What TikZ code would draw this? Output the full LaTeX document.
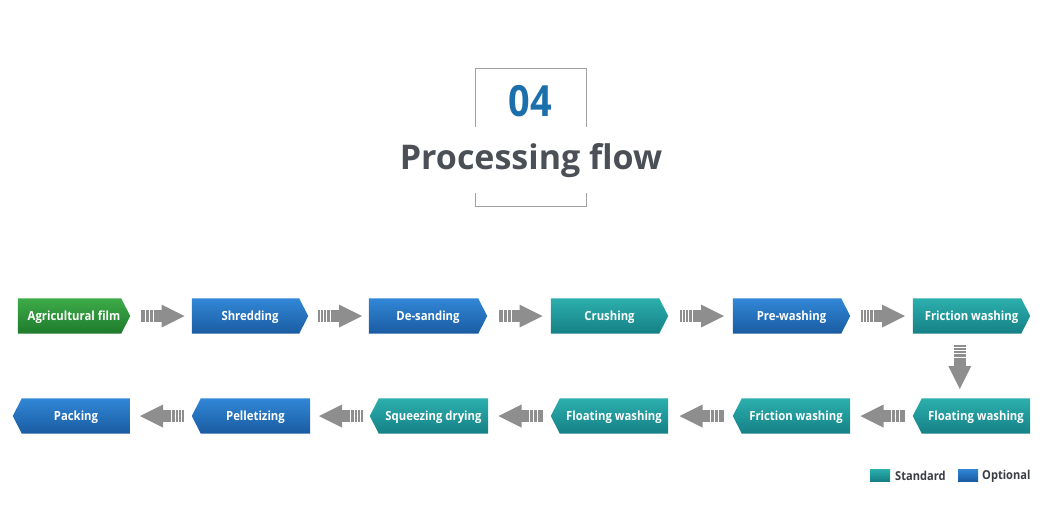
\documentclass[tikz,border=0pt]{standalone}
\usepackage{fontspec}
\setmainfont{Open Sans}
\newfontfamily\numfont[FakeStretch=0.88]{Open Sans}
\newfontfamily\boxfont[FakeStretch=0.9]{Open Sans}
\usetikzlibrary{calc,backgrounds}
\definecolor{bluetop}{HTML}{3187D6}
\definecolor{bluebot}{HTML}{1A5BA2}
\definecolor{tealtop}{HTML}{2CAFAD}
\definecolor{tealbot}{HTML}{158086}
\definecolor{greentop}{HTML}{3EAB49}
\definecolor{greenbot}{HTML}{1E7A2B}
\definecolor{arrgray}{HTML}{8E8E8E}
\definecolor{titlegray}{HTML}{4B5057}
\definecolor{numblue}{HTML}{1B6FAA}
\definecolor{framegray}{HTML}{A0A0A0}
\definecolor{legtext}{HTML}{3A3D42}
\tikzset{
  stepbox/.style={minimum height=35pt, inner sep=0pt, text=white,
    text height=9pt, text depth=1pt,
    font=\boxfont\bfseries\fontsize{12.6}{13}\selectfont},
  pics/flowarr/.style={code={
    \fill[arrgray] (-1,-11.5) -- (22,0) -- (-1,11.5) -- cycle;
    \foreach \a/\b in {-22/-19.8,-19.1/-17.1,-16.4/-13.6,-12.8/-9.6,-8.7/-0.5}
      \fill[arrgray] (\a,-6) rectangle (\b,6);
  }},
  legbox/.style={minimum width=20pt, minimum height=12pt, inner sep=0pt},
  legtxt/.style={anchor=west, inner sep=0pt, text=legtext,
    font=\boxfont\bfseries\fontsize{12.3}{13}\selectfont}
}
\newcommand\rshape[3]{%
  \shade[top color=#2,bottom color=#3] (#1.north west) -- ([xshift=-9pt]#1.north east)
    -- (#1.east) -- ([xshift=-9pt]#1.south east) -- (#1.south west) -- cycle;}
\newcommand\lshape[3]{%
  \shade[top color=#2,bottom color=#3] (#1.north east) -- (#1.north west)
    -- ([xshift=-9pt]#1.west) -- (#1.south west) -- (#1.south east) -- cycle;}
\begin{document}
\begin{tikzpicture}[x=1pt,y=-1pt]
\useasboundingbox (0,0) rectangle (1060,523);
% title frame
\draw[framegray, line width=0.9pt] (475,127) -- (475,68) -- (586,68) -- (586,127);
\draw[framegray, line width=0.9pt] (475,193) -- (475,206) -- (586,206) -- (586,193);
\node[text=numblue, font=\numfont\bfseries\fontsize{43}{43}\selectfont, inner sep=0pt] (num) at (530,101) {04};
\node[text=titlegray, font=\bfseries\fontsize{34}{35}\selectfont, inner sep=0pt] (title) at (531,161) {Processing flow};
% row 1
\node[stepbox, minimum width=112pt] (s1) at (74,316) {Agricultural film};
\node[stepbox, minimum width=116pt] (s2) at (250,316) {Shredding};
\node[stepbox, minimum width=118pt] (s3) at (428,316) {De-sanding};
\node[stepbox, minimum width=117pt] (s4) at (609.5,316) {Crushing};
\node[stepbox, minimum width=117pt] (s5) at (791.5,316) {Pre-washing};
\node[stepbox, minimum width=117pt] (s6) at (971.5,316) {Friction washing};
% row 2
\node[stepbox, minimum width=108pt] (t1) at (76,416) {Packing};
\node[stepbox, minimum width=109pt] (t2) at (255.5,416) {Pelletizing};
\node[stepbox, minimum width=109pt] (t3) at (433.5,416) {Squeezing drying};
\node[stepbox, minimum width=108pt] (t4) at (614,416) {Floating washing};
\node[stepbox, minimum width=108pt] (t5) at (796,416) {Friction washing};
\node[stepbox, minimum width=108pt] (t6) at (976,416) {Floating washing};
\begin{pgfonlayer}{background}
\fill[white] (0,0) rectangle (1060,523);
\rshape{s1}{greentop}{greenbot}
\rshape{s2}{bluetop}{bluebot}
\rshape{s3}{bluetop}{bluebot}
\rshape{s4}{tealtop}{tealbot}
\rshape{s5}{bluetop}{bluebot}
\rshape{s6}{tealtop}{tealbot}
\lshape{t1}{bluetop}{bluebot}
\lshape{t2}{bluetop}{bluebot}
\lshape{t3}{tealtop}{tealbot}
\lshape{t4}{tealtop}{tealbot}
\lshape{t5}{tealtop}{tealbot}
\lshape{t6}{tealtop}{tealbot}
\end{pgfonlayer}
% arrows row 1
\foreach \a/\b in {s1/s2,s2/s3,s3/s4,s4/s5,s5/s6}
  \pic at ($($(\a.east)!0.5!(\b.west)$)+(1.5,0)$) {flowarr};
% arrows row 2
\foreach \a/\b in {t2/t1,t3/t2,t4/t3,t5/t4,t6/t5}
  \pic[rotate=180] at ($($([xshift=-9pt]\a.west)!0.5!(\b.east)$)+(1,0)$) {flowarr};
% down arrow
\pic[rotate=-90] at ($($(s6.south)!0.5!(t6.north)$)+(-14,1)$) {flowarr};
% legend
\shade[top color=tealtop, bottom color=tealbot] (870,469) rectangle (890,481);
\node[legbox] (lg1) at (880,475) {};
\node[legtxt] (lt1) at (895,476) {Standard};
\shade[top color=bluetop, bottom color=bluebot] (958,469) rectangle (978,481);
\node[legbox] (lg2) at (968,475) {};
\node[legtxt] (lt2) at (982,476) {Optional};
\end{tikzpicture}
\end{document}
